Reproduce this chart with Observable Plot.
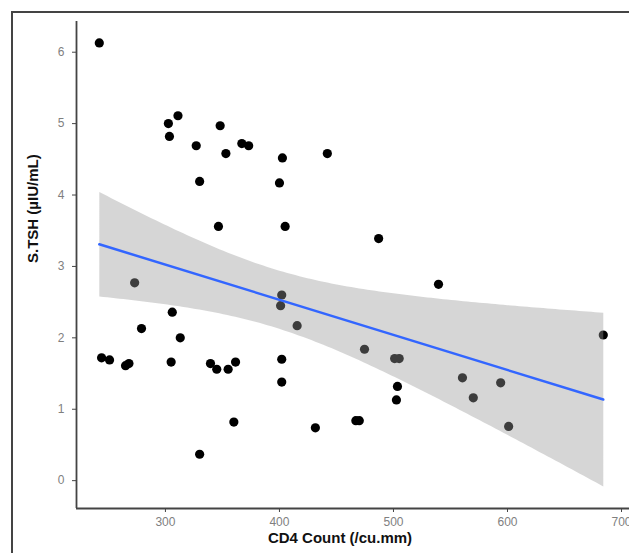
<!DOCTYPE html>
<html><head><meta charset="utf-8">
<script src="https://cdn.jsdelivr.net/npm/d3@7"></script>
<script src="https://cdn.jsdelivr.net/npm/@observablehq/plot@0.6"></script>
<style>
html,body{margin:0;padding:0;background:#fff;overflow:hidden;}
#wrap{position:relative;width:629px;height:553px;overflow:hidden;}
#wrap svg{position:absolute;left:0;top:0;}
#border{position:absolute;left:11px;top:11px;width:700px;height:700px;border-left:2px solid #444;border-top:2px solid #444;pointer-events:none;}
</style></head><body><div id="wrap"><div id="border"></div></div>
<script>
const cd4 = [242, 302.6, 303.5, 311, 327, 330, 348, 353, 367, 373, 400, 402.6, 346.5, 405, 442, 487, 539.5, 684,
  273, 306, 279, 313, 244, 251, 265, 268, 305, 339.5, 345, 355, 361.5, 330, 360,
  402, 401, 415.5, 402, 402, 431.5, 474.6, 501, 505, 503.5, 502.6, 467, 470, 560.5, 570, 594, 601];
const tsh = [6.13, 5.0, 4.82, 5.11, 4.69, 4.19, 4.97, 4.58, 4.72, 4.69, 4.17, 4.52, 3.56, 3.56, 4.58, 3.39, 2.75, 2.04,
  2.77, 2.36, 2.13, 2.0, 1.72, 1.69, 1.61, 1.64, 1.66, 1.64, 1.56, 1.56, 1.66, 0.37, 0.82,
  2.6, 2.45, 2.17, 1.7, 1.38, 0.74, 1.84, 1.71, 1.71, 1.32, 1.13, 0.84, 0.84, 1.44, 1.16, 1.37, 0.76];
const xTicks = [300, 400, 500, 600, 700];
const yTicks = [0, 1, 2, 3, 4, 5, 6];
const xDomain = [222, 707];
const yDomain = [-0.39, 6.43];
const xTitle = "CD4 Count (/cu.mm)";
const yTitle = "S.TSH (µIU/mL)";

const data = cd4.map((x, i) => ({x, y: tsh[i]}));

const chart = Plot.plot({
  width: 629, height: 553,
  marginLeft: 76, marginRight: 0, marginTop: 21, marginBottom: 45,
  style: {fontFamily: "'Liberation Sans', Arial, sans-serif", background: "transparent", overflow: "visible"},
  x: {domain: xDomain},
  y: {domain: yDomain},
  marks: [
    Plot.dot(data, {x: "x", y: "y", r: 4.6, fill: "black", stroke: "none"}),
    Plot.linearRegressionY(data, {x: "x", y: "y", stroke: "#3366FF", strokeWidth: 2.5, fill: "#999999", fillOpacity: 0.4, ci: 0.95}),
    Plot.ruleX([xDomain[0]], {stroke: "#444", strokeWidth: 1.8}),
    Plot.ruleY([yDomain[0]], {stroke: "#444", strokeWidth: 1.8}),
    Plot.axisX({ticks: xTicks, tickFormat: d3.format("d"), tickSize: 4, tickPadding: 5, fontSize: 12, stroke: "#444", fill: "#7f7f7f", label: null}),
    Plot.axisY({ticks: yTicks, tickFormat: d3.format("d"), tickSize: 4, tickPadding: 8, fontSize: 12, stroke: "#444", fill: "#7f7f7f", label: null}),
    Plot.text([xTitle], {text: d => d, frameAnchor: "bottom", dy: 34, dx: -13, fontSize: 15, fontWeight: "bold", fill: "#111"}),
    Plot.text([yTitle], {text: d => d, frameAnchor: "left", dx: -43, dy: -2, rotate: -90, fontSize: 15, fontWeight: "bold", fill: "#111"})
  ]
});
document.getElementById("wrap").appendChild(chart);
</script>
</body></html>
